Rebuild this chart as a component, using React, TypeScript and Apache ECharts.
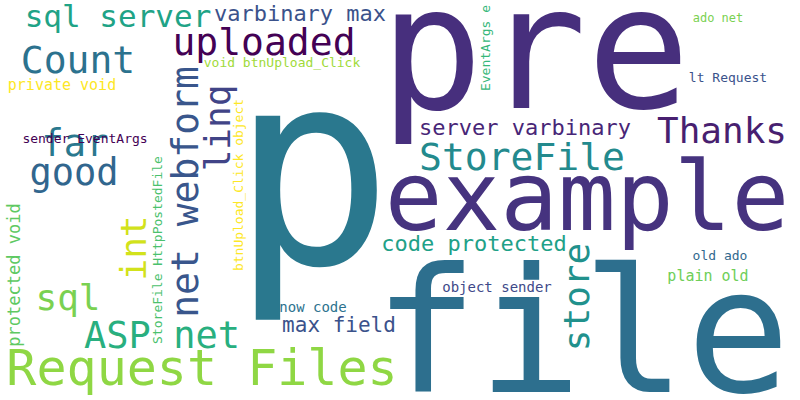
import React, { useEffect, useRef } from "react";
import * as echarts from "echarts";

// word cloud: one entry per word, in the same order across the arrays
const words = [
  "pre", "p", "example", "file", "Request Files", "ASP net", "sql", "good",
  "far", "Count", "sql server", "uploaded", "varbinary max", "net webform",
  "linq", "int", "protected void", "sender EventArgs", "private void",
  "void btnUpload_Click", "btnUpload_Click object", "StoreFile HttpPostedFile",
  "EventArgs e", "ado net", "lt Request", "Thanks", "server varbinary",
  "StoreFile", "code protected", "store", "old ado", "plain old",
  "object sender", "now code", "max field",
];
const xs = [
  535, 312, 587, 582, 202, 162, 68, 74, 75, 78, 118, 264, 300, 185, 217, 133,
  14, 85, 62, 282, 238, 157, 485, 718, 728, 722, 525, 522, 474, 576, 720, 708,
  497, 313, 339,
];
const ys = [
  48, 170, 197, 332, 368, 335, 297, 172, 143, 60, 16, 42, 13, 192, 128, 248,
  275, 138, 85, 62, 185, 250, 48, 18, 77, 130, 127, 157, 243, 297, 255, 276,
  287, 307, 325,
];
const sizes = [
  172, 270, 96, 173, 50, 37, 36, 37, 37, 38, 31, 38, 22, 38, 36, 36, 17, 13,
  15, 13, 13, 13, 13, 12, 13, 36, 22, 38, 22, 36, 13, 15, 14, 14, 21,
];
const colors = [
  "#472f7d", "#2a788e", "#46337f", "#2d6f8e", "#8fd744", "#29af7f", "#7ad151",
  "#31668e", "#2a788e", "#2c728e", "#20a386", "#440154", "#3b528b", "#39568c",
  "#414487", "#d2e21b", "#5ec962", "#440154", "#fde725", "#a0da39", "#fde725",
  "#4ac16d", "#35b779", "#7ad151", "#3b528b", "#481f70", "#482677", "#238a8d",
  "#1fa188", "#21918c", "#31688e", "#6ece58", "#3e4989", "#2c728e", "#3b528b",
];
const rotations = [
  0, 0, 0, 0, 0, 0, 0, 0, 0, 0, 0, 0, 0, 90, 90, 90, 90, 0, 0, 0, 90, 90, 90,
  0, 0, 0, 0, 0, 0, 90, 0, 0, 0, 0, 0,
];

const App: React.FC = () => {
  const chartRef = useRef<HTMLDivElement>(null);

  useEffect(() => {
    document.body.style.margin = "0";
    if (!chartRef.current) return;
    const chart = echarts.init(chartRef.current, undefined, { renderer: "svg" });

    chart.setOption({
      animation: false,
      backgroundColor: "#ffffff",
      grid: { left: 0, right: 0, top: 0, bottom: 0 },
      xAxis: { type: "value", min: 0, max: 800, show: false },
      yAxis: { type: "value", min: 0, max: 400, inverse: true, show: false },
      series: [
        {
          type: "scatter",
          symbolSize: 0,
          itemStyle: { opacity: 1 },
          emphasis: { disabled: true },
          data: words.map((w, i) => ({
            name: w,
            value: [xs[i], ys[i]],
            label: {
              show: true,
              position: "inside",
              formatter: "{b}",
              fontFamily: "DejaVu Sans Mono",
              fontSize: sizes[i],
              color: colors[i],
              opacity: 1,
              rotate: rotations[i],
            },
          })),
        },
      ],
    });

    return () => {
      chart.dispose();
    };
  }, []);

  return <div ref={chartRef} style={{ width: "800px", height: "400px" }} />;
};

export default App;
